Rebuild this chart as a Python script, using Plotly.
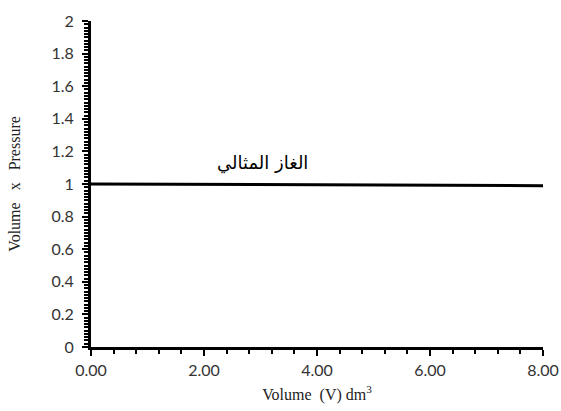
import plotly.graph_objects as go

volume = [0.0, 8.0]
pv = [1.0, 0.99]
x_ticks = [0, 2, 4, 6, 8]
x_labels = ["0.00", "2.00", "4.00", "6.00", "8.00"]
y_ticks = [0, 0.2, 0.4, 0.6, 0.8, 1, 1.2, 1.4, 1.6, 1.8, 2]
y_labels = ["0", "0.2", "0.4", "0.6", "0.8", "1", "1.2", "1.4", "1.6", "1.8", "2"]
label_text = "الغاز المثالي"

fig = go.Figure()
fig.add_trace(go.Scatter(x=volume, y=pv, mode="lines",
                         line=dict(color="black", width=3), showlegend=False,
                         cliponaxis=False))
fig.add_annotation(x=3.03, y=1.13, text=label_text, showarrow=False,
                   font=dict(family="DejaVu Sans", size=18, color="black"))

tick_font = dict(family="Lato, Roboto, sans-serif", size=16, color="#333")
title_font = dict(family="Liberation Serif, Times New Roman, serif", size=16, color="#222")
fig.update_layout(
    width=561, height=411,
    margin=dict(l=91, r=18, t=21, b=64),
    plot_bgcolor="white", paper_bgcolor="white",
    xaxis=dict(range=[0, 8], tickvals=x_ticks, ticktext=x_labels,
               automargin=False, ticklabeloverflow="allow",
               showgrid=False, zeroline=False, showline=True,
               linecolor="black", linewidth=3, ticks="outside",
               ticklen=6, tickwidth=2, tickcolor="black",
               tickfont=tick_font, ticklabelstandoff=1,
               minor=dict(dtick=0.4, ticks="outside", ticklen=4, tickwidth=2, tickcolor="black", showgrid=False),
               title=dict(text="Volume  (V) dm<sup>3</sup>", font=title_font, standoff=11)),
    yaxis=dict(range=[0, 2], tickvals=y_ticks, ticktext=y_labels,
               automargin=False,
               showgrid=False, zeroline=False, showline=True,
               linecolor="black", linewidth=3, ticks="outside",
               ticklen=6, tickwidth=2, tickcolor="black",
               tickfont=tick_font, ticklabelstandoff=5,
               minor=dict(dtick=0.02, ticks="outside", ticklen=4, tickwidth=1.5, tickcolor="black", showgrid=False),
               title=dict(text="Volume   x   Pressure", font=title_font, standoff=27)),
)
fig.write_html(
    "out.html",
    config={"displayModeBar": False},
    post_script="document.body.style.margin='0';document.documentElement.style.overflow='hidden';document.body.style.overflow='hidden';",
)
